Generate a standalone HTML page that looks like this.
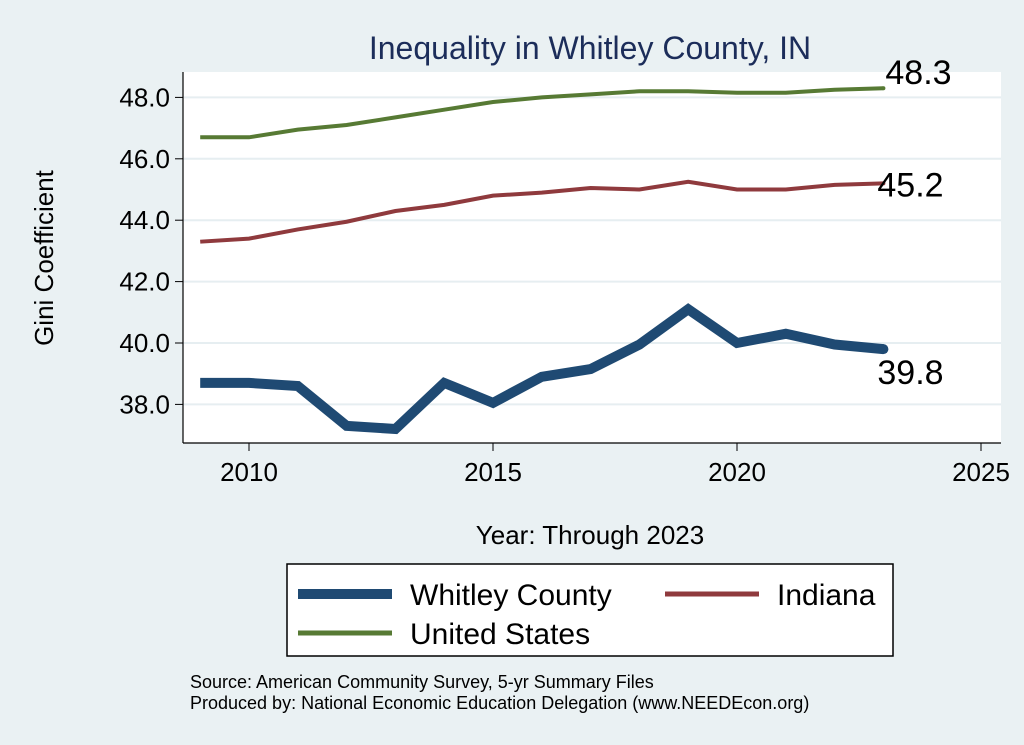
<!DOCTYPE html>
<html><head><meta charset="utf-8"><style>
body{margin:0;background:#eaf1f3;font-family:"Liberation Sans",sans-serif;}
svg{display:block}
</style></head><body>
<svg width="1024" height="745" xmlns="http://www.w3.org/2000/svg">
<rect x="0" y="0" width="1024" height="745" fill="#eaf1f3"/>
<rect x="183" y="72" width="818" height="371" fill="#ffffff"/>
<text x="590" y="59" text-anchor="middle" font-size="32" fill="#1c2d5a">Inequality in Whitley County, IN</text>
<g id="grid"></g>
<g id="axes"></g>
<g id="series"></g>
<text x="53" y="258" transform="rotate(-90 53 258)" text-anchor="middle" font-size="26" fill="#000">Gini Coefficient</text>
<text x="590" y="544" text-anchor="middle" font-size="26" fill="#000">Year: Through 2023</text>
<g>
<rect x="287" y="564" width="606" height="92" fill="#fff" stroke="#000" stroke-width="1.5"/>
<line x1="298" y1="594" x2="392" y2="594" stroke="#1f4a73" stroke-width="10"/>
<text x="410" y="605" font-size="30">Whitley County</text>
<line x1="665" y1="594" x2="759" y2="594" stroke="#8f3a3d" stroke-width="5"/>
<text x="777" y="605" font-size="30">Indiana</text>
<line x1="298" y1="633" x2="392" y2="633" stroke="#577a34" stroke-width="5"/>
<text x="410" y="644" font-size="30">United States</text>
</g>
<text x="190" y="688" font-size="18">Source: American Community Survey, 5-yr Summary Files</text>
<text x="190" y="709" font-size="18">Produced by: National Economic Education Delegation (www.NEEDEcon.org)</text>
</svg>
<script>
const years=[2009,2010,2011,2012,2013,2014,2015,2016,2017,2018,2019,2020,2021,2022,2023];
const whitley=[38.7,38.7,38.6,37.3,37.2,38.7,38.05,38.9,39.15,39.95,41.1,40.0,40.3,39.95,39.8];
const indiana=[43.3,43.4,43.7,43.95,44.3,44.5,44.8,44.9,45.05,45.0,45.25,45.0,45.0,45.15,45.2];
const us=[46.7,46.7,46.95,47.1,47.35,47.6,47.85,48.0,48.1,48.2,48.2,48.15,48.15,48.25,48.3];
const yTicks=[38,40,42,44,46,48];
const xTicks=[2010,2015,2020,2025];
const NS="http://www.w3.org/2000/svg";
const xs=y=>249+(y-2010)*48.8;
const ys=v=>343-(v-40)*30.7;
function mk(t,a,p){const e=document.createElementNS(NS,t);for(const k in a)e.setAttribute(k,a[k]);p.appendChild(e);return e;}
const grid=document.getElementById('grid'),axes=document.getElementById('axes'),ser=document.getElementById('series');
mk('line',{x1:183,y1:72,x2:183,y2:443,stroke:'#000','stroke-width':1.2},axes);
mk('line',{x1:183,y1:443,x2:1001,y2:443,stroke:'#000','stroke-width':1.2},axes);
yTicks.forEach(v=>{
const g=mk('line',{x1:183,y1:ys(v),x2:1001,y2:ys(v),stroke:'#e6eef1','stroke-width':2},grid);


mk('line',{x1:175,y1:ys(v),x2:183,y2:ys(v),stroke:'#000'},axes);
const t=mk('text',{x:170,y:ys(v)+9,'text-anchor':'end','font-size':26},axes);t.textContent=v.toFixed(1);


});
xTicks.forEach(v=>{
mk('line',{x1:xs(v),y1:443,x2:xs(v),y2:451,stroke:'#000'},axes);
const t=mk('text',{x:xs(v),y:481,'text-anchor':'middle','font-size':26},axes);t.textContent=v;


});
function line(d,c,w,name,lx,ly){
const p=mk('polyline',{points:d.map((v,i)=>xs(years[i])+','+ys(v)).join(' '),fill:'none',stroke:c,'stroke-width':w,'stroke-linejoin':'miter'},ser);


const last=d[d.length-1];
mk('circle',{cx:xs(years[years.length-1]),cy:ys(last),r:w/2,fill:c},ser);
const t=mk('text',{x:xs(years[years.length-1])+lx,y:ys(last)+ly,'font-size':34},ser);t.textContent=last.toFixed(1);


}
line(us,'#577a34',4,'line-united-states',2,-4);
line(indiana,'#8f3a3d',4,'line-indiana',-6,13);
line(whitley,'#1f4a73',10,'line-whitley-county',-6,35);
</script>
</body></html>
